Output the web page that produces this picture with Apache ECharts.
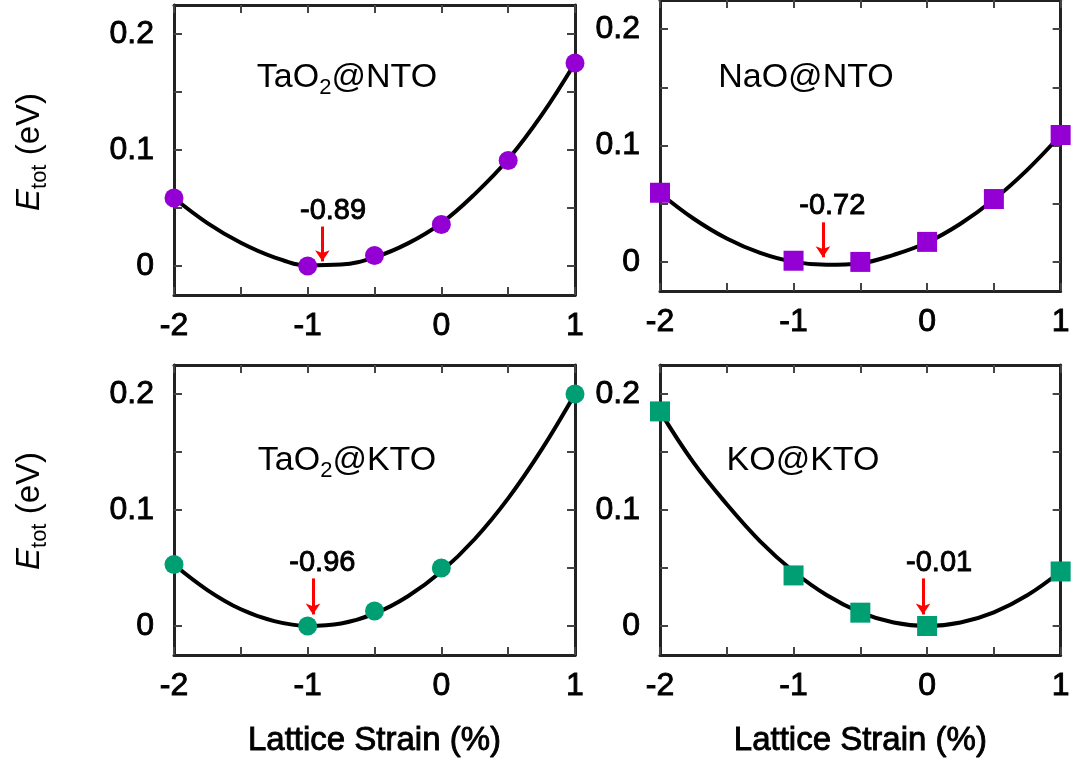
<!DOCTYPE html>
<html>
<head>
<meta charset="utf-8">
<script src="https://cdn.jsdelivr.net/npm/echarts@6/dist/echarts.min.js"></script>
<style>
  html, body { margin: 0; padding: 0; background: #fff; }
  #chart { width: 1073px; height: 767px; }
</style>
</head>
<body>
<div id="chart"></div>
<script>
// 数据
var strainNTO = [-2, -1, -0.5, 0, 0.5, 1];
var strainKTO = [-2, -1, -0.5, 0, 1];
var eTaO2NTO = [0.0586, 0.0, 0.009, 0.0357, 0.091, 0.175];
var eNaONTO = [0.0594, 0.001, 0.0, 0.0172, 0.054, 0.109];
var eTaO2KTO = [0.053, 0.0, 0.013, 0.050, 0.200];
var eKOKTO = [0.185, 0.0436, 0.0115, 0.0, 0.047];

// 拟合曲线
var fitX = [-2, -1.75, -1.5, -1.25, -1, -0.75, -0.5, -0.25, 0, 0.25, 0.5, 0.75, 1];
var fitTaO2NTO = [0.0586, 0.037, 0.020, 0.0075, 0.0006, 0.0013, 0.0075, 0.0195, 0.037, 0.062, 0.092, 0.130, 0.175];
var fitNaONTO = [0.059, 0.0373, 0.0201, 0.0077, 0.0, -0.0025, -0.0012, 0.0061, 0.0167, 0.0328, 0.0536, 0.0791, 0.109];
var fitTaO2KTO = [0.053, 0.031, 0.0144, 0.0042, 0.0001, 0.0022, 0.0107, 0.0257, 0.047, 0.075, 0.110, 0.152, 0.200];
var fitKOKTO = [0.185, 0.141, 0.105, 0.073, 0.047, 0.0265, 0.0118, 0.003, 0.0, 0.003, 0.0118, 0.0265, 0.047];

// 最小值标注
var minLabels = ['-0.89', '-0.72', '-0.96', '-0.01'];
var arrowX = [-0.89, -0.78, -0.96, -0.03];
var arrowFrom = [0.034, 0.034, 0.041, 0.041];
var arrowTo = [0.004, 0.004, 0.010, 0.010];
var labelX = [-0.81, -0.71, -0.89, 0.09];
var labelY = [0.047, 0.048, 0.054, 0.054];

// 刻度
var xTicks = [-2, -1.5, -1, -0.5, 0, 0.5, 1];
var xTickLabels = [-2, -1, 0, 1];
var yTicks = [0, 0.05, 0.1, 0.15, 0.2];
var yTickLabels = [0, 0.1, 0.2];

var violet = '#9400d3';
var green = '#009e73';
var font = 'Liberation Sans, Arial, Helvetica, sans-serif';

var panels = [
    {grid: {left: 174, top: 5, width: 401, height: 290}, x: strainNTO, y: eTaO2NTO, fit: fitTaO2NTO, symbol: 'circle', size: 19, color: violet, xName: ''},
    {grid: {left: 660, top: 0, width: 401, height: 291}, x: strainNTO, y: eNaONTO, fit: fitNaONTO, symbol: 'rect', size: 20, color: violet, xName: ''},
    {grid: {left: 174, top: 365, width: 401, height: 290}, x: strainKTO, y: eTaO2KTO, fit: fitTaO2KTO, symbol: 'circle', size: 19, color: green, xName: 'Lattice Strain (%)'},
    {grid: {left: 660, top: 365, width: 401, height: 290}, x: strainKTO, y: eKOKTO, fit: fitKOKTO, symbol: 'rect', size: 20, color: green, xName: 'Lattice Strain (%)'}
];

var axisLine = {show: true, onZero: false, lineStyle: {color: '#222', width: 3}};
var tickStyle = {color: '#444', width: 2};
var labelFont = {fontSize: 32, color: '#000', fontFamily: font, textBorderColor: '#000', textBorderWidth: 0.9};

var grids = [], xAxes = [], yAxes = [], series = [];

panels.forEach(function (p, i) {
    grids.push(p.grid);
    // 底部 x 轴
    xAxes.push({
        type: 'value', gridIndex: i, position: 'bottom', min: -2, max: 1,
        axisLine: axisLine,
        axisTick: {show: true, inside: true, length: 8, lineStyle: tickStyle, customValues: xTicks},
        axisLabel: Object.assign({show: true, customValues: xTickLabels, margin: 15}, labelFont),
        splitLine: {show: false},
        name: p.xName, nameLocation: 'middle', nameGap: 69,
        nameTextStyle: Object.assign({}, labelFont, {fontSize: 33})
    });
    // 顶部镜像
    xAxes.push({
        type: 'value', gridIndex: i, position: 'top', min: -2, max: 1,
        axisLine: axisLine,
        axisTick: {show: true, inside: true, length: 8, lineStyle: tickStyle, customValues: xTicks},
        axisLabel: {show: false},
        splitLine: {show: false}
    });
    yAxes.push({
        type: 'value', gridIndex: i, position: 'left', min: -0.025, max: 0.225,
        axisLine: axisLine,
        axisTick: {show: true, inside: true, length: 8, lineStyle: tickStyle, customValues: yTicks},
        axisLabel: Object.assign({show: true, customValues: yTickLabels, margin: 20}, labelFont),
        splitLine: {show: false}
    });
    yAxes.push({
        type: 'value', gridIndex: i, position: 'right', min: -0.025, max: 0.225,
        axisLine: axisLine,
        axisTick: {show: true, inside: true, length: 8, lineStyle: tickStyle, customValues: yTicks},
        axisLabel: {show: false},
        splitLine: {show: false}
    });

    series.push({
        type: 'line', xAxisIndex: 2 * i, yAxisIndex: 2 * i,
        data: fitX.map(function (x, k) { return [x, p.fit[k]]; }),
        smooth: 0.4, showSymbol: false, symbol: 'none', clip: false, silent: true,
        lineStyle: {color: '#000', width: 4},
        z: 3,
        markLine: {
            silent: true, symbol: ['none', 'arrow'], symbolSize: 11,
            label: {show: false},
            lineStyle: {color: '#f00', width: 3, type: 'solid'},
            data: [[{coord: [arrowX[i], arrowFrom[i]]}, {coord: [arrowX[i], arrowTo[i]]}]]
        },
        markPoint: {
            silent: true, symbol: 'circle', symbolSize: 1,
            itemStyle: {color: 'rgba(0,0,0,0)'},
            label: Object.assign({show: true, position: 'inside', formatter: minLabels[i]}, labelFont, {fontSize: 29}),
            data: [{coord: [labelX[i], labelY[i]]}]
        }
    });
    series.push({
        type: 'scatter', xAxisIndex: 2 * i, yAxisIndex: 2 * i,
        data: p.x.map(function (x, k) { return [x, p.y[k]]; }),
        symbol: p.symbol, symbolSize: p.size, clip: false,
        itemStyle: {color: p.color, opacity: 1},
        z: 4
    });
});

var richBase = {fontFamily: font, fill: '#000', color: '#000'};

function titleText(x, y, text) {
    return {
        type: 'text', x: x, y: y, z: 10,
        style: {
            text: text, align: 'center', verticalAlign: 'middle',
            rich: {
                n: Object.assign({fontSize: 34, lineHeight: 42}, richBase),
                s: Object.assign({fontSize: 22, lineHeight: 19, verticalAlign: 'bottom'}, richBase)
            }
        }
    };
}

function yName(x, y) {
    return {
        type: 'text', x: x, y: y, rotation: Math.PI / 2, z: 10,
        style: {
            text: '{e|E}{s|tot}{n| (eV)}', align: 'center', verticalAlign: 'middle',
            rich: {
                e: Object.assign({fontSize: 33, lineHeight: 42, fontStyle: 'italic'}, richBase),
                n: Object.assign({fontSize: 33, lineHeight: 42}, richBase),
                s: Object.assign({fontSize: 22, lineHeight: 19, verticalAlign: 'bottom'}, richBase)
            }
        }
    };
}

var chart = echarts.init(document.getElementById('chart'));
chart.setOption({
    backgroundColor: '#fff',
    animation: false,
    grid: grids,
    xAxis: xAxes,
    yAxis: yAxes,
    series: series,
    graphic: [
        titleText(347, 78, '{n|TaO}{s|2}{n|@NTO}'),
        titleText(806, 78, '{n|NaO@NTO}'),
        titleText(347, 461, '{n|TaO}{s|2}{n|@KTO}'),
        titleText(803, 461, '{n|KO@KTO}'),
        yName(30, 152),
        yName(30, 511)
    ]
});
</script>
</body>
</html>
